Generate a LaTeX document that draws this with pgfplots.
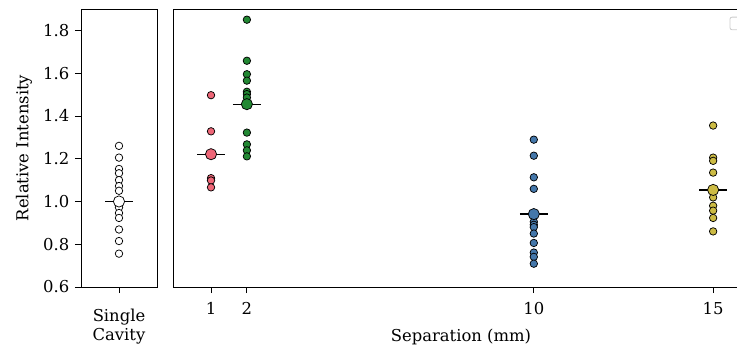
\documentclass[border=0pt]{standalone}
\usepackage{fontspec}
\setmainfont{DejaVu Serif}
\usepackage{pgfplots}
\pgfplotsset{compat=1.18}
\definecolor{cpink}{HTML}{EE6677}
\definecolor{cgreen}{HTML}{228833}
\definecolor{cblue}{HTML}{4477AA}
\definecolor{cyellow}{HTML}{CCBB44}
\pgfplotsset{
  common/.style={
    scale only axis, height=208.5pt, ymin=0.6, ymax=1.9,
    tick align=outside, major tick length=4.5pt,
    tick style={black, line width=0.6pt},
    axis line style={black, line width=0.6pt},
    xtick pos=bottom, ytick pos=left,
    /pgf/number format/assume math mode=true,
    yticklabel style={/pgf/number format/fixed, /pgf/number format/fixed zerofill, /pgf/number format/precision=1},
  },
  pt/.style={only marks, mark=*, mark size=2.8pt, mark options={fill=#1, draw=black, line width=0.55pt}},
  mn/.style={only marks, mark=*, mark size=4.2pt, mark options={fill=#1, draw=black, line width=0.55pt}},
  mline/.style={black, line width=0.9pt, no marks},
}
\begin{document}
\begin{tikzpicture}
\fontsize{12.3pt}{14.2pt}\selectfont
\begin{axis}[common, name=left, at={(0pt,0pt)}, anchor=south west, width=57pt,
  xmin=-1, xmax=1, xtick={0}, xticklabels={Single\\Cavity},
  xticklabel style={align=center, yshift=-8pt},
  ytick={0.6,0.8,1.0,1.2,1.4,1.6,1.8},
  ylabel={Relative Intensity}]
\addplot[pt=white] coordinates {
(0,1.26) (0,1.205) (0,1.152) (0,1.132) (0,1.10) (0,1.072) (0,1.05)
(0,0.985) (0,0.972) (0,0.946) (0,0.923) (0,0.869) (0,0.815) (0,0.756)};
\addplot[mline] coordinates {(-0.36,1.0) (0.36,1.0)};
\addplot[mn=white] coordinates {(0,1.0)};
\end{axis}
\begin{axis}[common, name=right, at={(69pt,0pt)}, anchor=south west, width=432pt,
  xmin=-0.06, xmax=16, xtick={1,2,10,15}, ytick=\empty,
  xticklabel style={yshift=-3pt},
  xlabel={Separation (mm)}, xlabel style={yshift=-2pt}]
\addplot[pt=cpink] coordinates {(1,1.497) (1,1.328) (1,1.109) (1,1.098) (1,1.066)};
\addplot[mline] coordinates {(0.61,1.221) (1.39,1.221)};
\addplot[mn=cpink] coordinates {(1,1.221)};
\addplot[pt=cgreen] coordinates {(2,1.85) (2,1.658) (2,1.595) (2,1.565) (2,1.513) (2,1.502) (2,1.486) (2,1.322) (2,1.267) (2,1.239) (2,1.211)};
\addplot[mline] coordinates {(1.61,1.455) (2.39,1.455)};
\addplot[mn=cgreen] coordinates {(2,1.455)};
\addplot[pt=cblue] coordinates {(10,1.289) (10,1.214) (10,1.113) (10,1.059) (10,0.905) (10,0.891) (10,0.880) (10,0.850) (10,0.806) (10,0.761) (10,0.741) (10,0.709)};
\addplot[mline] coordinates {(9.61,0.941) (10.39,0.941)};
\addplot[mn=cblue] coordinates {(10,0.941)};
\addplot[pt=cyellow] coordinates {(15,1.355) (15,1.205) (15,1.19) (15,1.135) (15,1.019) (15,0.980) (15,0.957) (15,0.923) (15,0.860)};
\addplot[mline] coordinates {(14.61,1.054) (15.39,1.054)};
\addplot[mn=cyellow] coordinates {(15,1.054)};
\draw[black!20, line width=0.6pt, rounded corners=1.5pt, fill=white] (axis cs:15.47,1.862) rectangle (axis cs:15.78,1.803);
\end{axis}
\pgfresetboundingbox
\useasboundingbox (-60.75pt,-45pt) rectangle (492pt,215.25pt);
\end{tikzpicture}
\end{document}
